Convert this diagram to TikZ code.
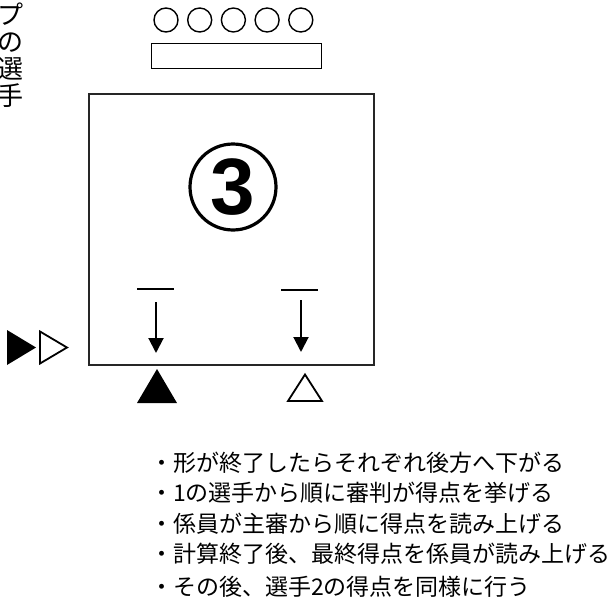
\documentclass[tikz,border=0pt]{standalone}
\usepackage{fontspec}
\setmainfont{Liberation Sans}
\newfontfamily\jp{Noto Sans CJK JP}
\usetikzlibrary{arrows.meta}
\begin{document}
\begin{tikzpicture}[x=1pt,y=-1pt,
  edge/.style={line width=1.3pt},
  ring/.style={draw, circle, line width=1.4pt, minimum size=24pt, inner sep=0pt},
  down/.style={line width=2pt, -{Triangle[length=15pt,width=15pt]}},
  bar/.style={line width=1.8pt},
  note/.style={anchor=base west, inner sep=0pt, font=\jp\fontsize{23}{23}\selectfont}]
\useasboundingbox (0,0) rectangle (616,613);
% vertical label (clipped at left edge, as in the reference)
\node[inner sep=0pt, align=center, font=\jp\fontsize{26}{27}\selectfont, anchor=north] (label) at (11,3) {プ\\の\\選\\手};
% five circles
\foreach \i in {0,...,4} {
  \node[ring] (c\i) at ({166+33.7*\i},20) {};
}
% rectangle below circles
\node[draw, edge, minimum width=170pt, minimum height=25pt, inner sep=0pt, anchor=north west] (bench) at (151,43) {};
% main square
\node[draw=black!85, line width=2pt, minimum width=285pt, minimum height=271pt, inner sep=0pt, anchor=north west] (court) at (88,93) {};
% circled 3
\node[draw, circle, line width=3.2pt, minimum size=86pt, inner sep=0pt, font=\bfseries\fontsize{80}{80}\selectfont] (three) at (233,187) {3};
% bars and arrows
\draw[bar] (137,289) -- (174,289);
\draw[bar] (281,290) -- (318,290);
\coordinate (a1s) at (156,302);
\coordinate (a1e) at (156,353);
\coordinate (a2s) at (301,300);
\coordinate (a2e) at (301,352);
\draw[down] (a1s) -- (a1e);
\draw[down] (a2s) -- (a2e);
% triangles below
\fill (137,403) -- (157,369) -- (177,403) -- cycle;
\draw[line width=1.8pt, line join=miter] (288,401) -- (305,374.5) -- (322,401) -- cycle;
% triangles left
\fill (7,330) -- (36,347.5) -- (7,365) -- cycle;
\draw[line width=1.8pt, line join=miter] (40,331.5) -- (67,347.5) -- (40,363.5) -- cycle;
% notes
\node[note] (n1) at (150,471) {・形が終了したらそれぞれ後方へ下がる};
\node[note] (n2) at (150,501.5) {・1の選手から順に審判が得点を挙げる};
\node[note] (n3) at (150,532) {・係員が主審から順に得点を読み上げる};
\node[note] (n4) at (150,562.5) {・計算終了後、最終得点を係員が読み上げる};
\node[note] (n5) at (150,595) {・その後、選手2の得点を同様に行う};
\end{tikzpicture}
\end{document}
